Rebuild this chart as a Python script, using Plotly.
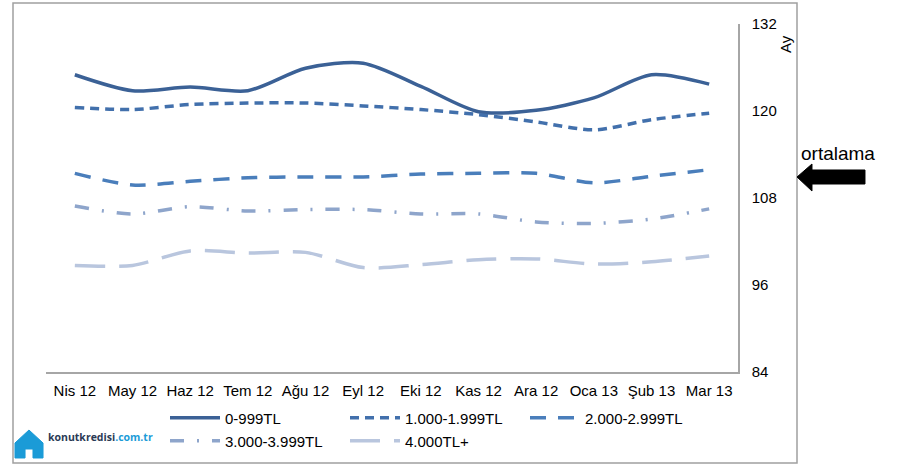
import plotly.graph_objects as go

months = ["Nis 12", "May 12", "Haz 12", "Tem 12", "Ağu 12", "Eyl 12",
          "Eki 12", "Kas 12", "Ara 12", "Oca 13", "Şub 13", "Mar 13"]

gelir_0_999 = [125.0, 122.8, 123.3, 122.8, 125.9, 126.6, 123.4, 119.9, 120.1, 121.8, 125.0, 123.7]
gelir_1000_1999 = [120.5, 120.2, 120.9, 121.1, 121.1, 120.7, 120.2, 119.5, 118.5, 117.4, 118.8, 119.7]
gelir_2000_2999 = [111.4, 109.8, 110.3, 110.8, 110.9, 110.9, 111.3, 111.4, 111.4, 110.1, 111.0, 111.9]
gelir_3000_3999 = [106.9, 105.8, 106.8, 106.2, 106.4, 106.4, 105.8, 105.8, 104.7, 104.5, 105.1, 106.5]
gelir_4000_plus = [98.7, 98.7, 100.7, 100.4, 100.5, 98.4, 98.8, 99.5, 99.6, 98.9, 99.2, 100.0]

y_ticks = [84, 96, 108, 120, 132]

series = [
    ("0-999TL", gelir_0_999, "#3B6196", "solid", "legend"),
    ("1.000-1.999TL", gelir_1000_1999, "#4270AC", "9px,6px", "legend"),
    ("2.000-2.999TL", gelir_2000_2999, "#4A7EBB", "16px,12px", "legend"),
    ("3.000-3.999TL", gelir_3000_3999, "#8EA5CB", "14px,13px,2px,13px", "legend2"),
    ("4.000TL+", gelir_4000_plus, "#B9C6DE", "30px,14px", "legend2"),
]

W, H = 903, 465
L, R, T, B = 46, 738, 24, 372


def px(x):
    return (x - L) / (R - L)


def py(y):
    return (B - y) / (B - T)


fig = go.Figure()
for name, vals, color, dash, leg in series:
    fig.add_trace(
        go.Scatter(
            x=months,
            y=vals,
            mode="lines",
            name=name,
            line={"color": color, "width": 3.5, "dash": dash, "shape": "spline", "smoothing": 0.8},
            legend=leg,
        )
    )

font = "Liberation Sans, Arial, sans-serif"
leg_common = {
    "orientation": "h", "xanchor": "left", "yanchor": "middle",
    "entrywidth": 115, "entrywidthmode": "pixels", "font": {"size": 15},
    "bgcolor": "rgba(0,0,0,0)", "itemwidth": 50,
}

fig.update_layout(
    width=W,
    height=H,
    margin={"l": L, "r": W - R, "t": T, "b": H - B, "autoexpand": False},
    plot_bgcolor="white",
    paper_bgcolor="white",
    font={"family": font, "size": 15, "color": "#000000"},
    legend={**leg_common, "x": px(165), "y": py(418)},
    legend2={**leg_common, "x": px(165), "y": py(441)},
)

fig.update_xaxes(
    showline=True, linecolor="#A6A6A6", linewidth=1.5, showgrid=False,
    ticks="", tickfont={"size": 15}, range=[-0.5, 11.5], ticklabelstandoff=4,
)
fig.update_yaxes(
    side="right", range=[84, 132], tickvals=y_ticks, showline=True,
    linecolor="#A6A6A6", linewidth=1.5, showgrid=False, zeroline=False,
    ticks="", ticklabelstandoff=9, tickfont={"size": 15},
)

# outer frame
fig.add_shape(type="rect", xref="paper", yref="paper",
              x0=px(13), x1=px(797), y0=py(463), y1=py(3),
              line={"color": "#A0A0A0", "width": 1.5})

# axis title
fig.add_annotation(text="Ay", xref="paper", yref="paper", x=px(785), y=py(44),
                   xanchor="center", yanchor="middle",
                   textangle=-90, showarrow=False, font={"size": 15})

# ortalama arrow
fig.add_annotation(text="ortalama", xref="paper", yref="paper", x=px(838), y=py(153),
                   xanchor="center", yanchor="middle",
                   showarrow=False, font={"size": 19})
arrow_pts = [(797, 177), (812, 164), (812, 170), (865, 170), (865, 184), (812, 184), (812, 191)]
path = "M " + " L ".join(f"{px(x):.4f},{py(y):.4f}" for x, y in arrow_pts) + " Z"
fig.add_shape(type="path", xref="paper", yref="paper", path=path,
              fillcolor="black", line={"color": "black", "width": 1})

# logo
house = [(15, 443), (29, 430), (43, 443), (43, 458), (33, 458), (33, 449),
         (25, 449), (25, 458), (15, 458)]
hpath = "M " + " L ".join(f"{px(x):.4f},{py(y):.4f}" for x, y in house) + " Z"
fig.add_shape(type="path", xref="paper", yref="paper", path=hpath,
              fillcolor="#1B9BD7", line={"color": "#1B9BD7", "width": 1})
fig.add_annotation(
    text="<b><span style='color:#2B3A55'>konutkredisi</span><span style='color:#1B9BD7'>.com.tr</span></b>",
    xref="paper", yref="paper", x=px(46), y=py(446), xanchor="left",
    showarrow=False, font={"size": 10.5, "family": "Open Sans, sans-serif"},
)

fig.write_html(
    "out.html",
    config={"displayModeBar": False},
    post_script="document.body.style.margin='0px';",
)
